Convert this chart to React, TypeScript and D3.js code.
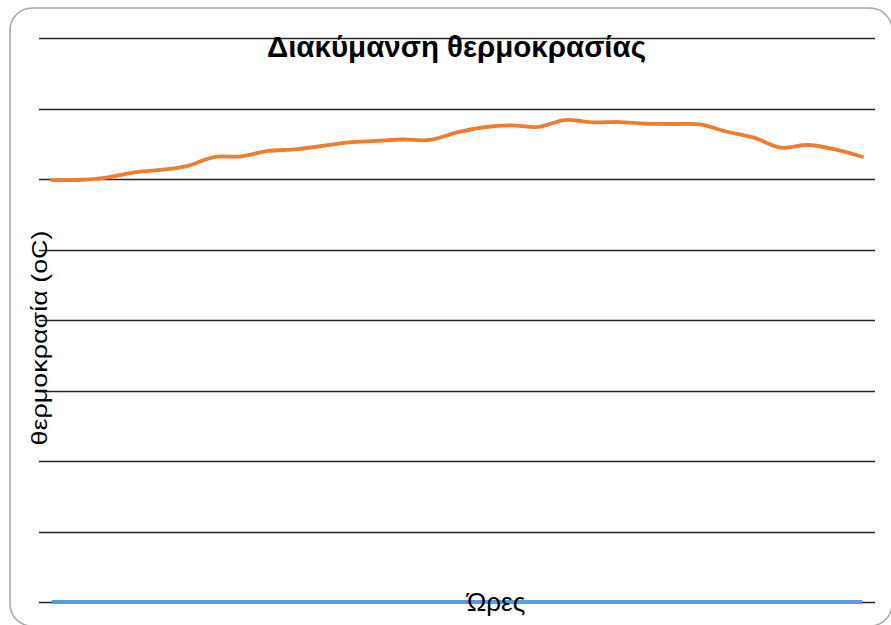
import React from "react";
import * as d3 from "d3";

const hours: string[] = Array.from({ length: 31 }, (_, i) => String(i + 1));
const temperature: number[] = [
  29.93, 29.93, 30.1, 30.46, 30.64, 30.92, 31.56, 31.6, 31.99, 32.1,
  32.34, 32.6, 32.7, 32.8, 32.77, 33.3, 33.67, 33.81, 33.69, 34.18,
  34.02, 34.04, 33.92, 33.9, 33.87, 33.35, 32.93, 32.22, 32.41, 32.1, 31.58,
];
const baseline: number[] = hours.map(() => 0);
const yTicks: number[] = [0, 5, 10, 15, 20, 25, 30, 35, 40];

const title = "Διακύμανση θερμοκρασίας";
const yTitle = "θερμοκρασία (oC)";
const xTitle = "Ώρες";

export default function App() {
  const W = 891;
  const H = 625;
  const plotLeft = 39;
  const plotRight = 875;
  const x = d3.scalePoint<string>().domain(hours).range([52, 862]);
  const y = d3.scaleLinear().domain([0, 40]).range([602, 38]);
  const line = d3
    .line<number>()
    .x((_, i) => x(hours[i]) as number)
    .y((d) => y(d))
    .curve(d3.curveCatmullRom.alpha(0.5));
  const flat = d3
    .line<number>()
    .x((_, i) => x(hours[i]) as number)
    .y((d) => y(d));
  const font = "'Liberation Sans', Arial, sans-serif";
  return (
    <svg
      width={W}
      height={H}
      style={{ position: "absolute", left: 0, top: 0, background: "#fff" }}
    >
      <rect x={10} y={8} width={882} height={618} rx={22} ry={22} fill="#fff" stroke="#a6a6a6" strokeWidth={1.5} />
      {yTicks.map((t) => (
        <line key={t} x1={plotLeft} x2={plotRight} y1={Math.round(y(t)) + 0.5} y2={Math.round(y(t)) + 0.5} stroke="#262626" strokeWidth={1.3} />
      ))}
      <path d={flat(baseline) || ""} fill="none" stroke="#5b9bd5" strokeWidth={3.8} />
      <path d={line(temperature) || ""} fill="none" stroke="#ed7d31" strokeWidth={3.8} strokeLinecap="round" />
      <text x={456.5} y={57} textAnchor="middle" fontFamily={font} fontWeight="bold" fontSize={29.5} fill="#000">
        {title}
      </text>
      <text
        transform={`translate(47,338) rotate(-90)`}
        textAnchor="middle"
        fontFamily={font}
        fontSize={22}
        textLength={215}
        lengthAdjust="spacingAndGlyphs"
        fill="#000"
      >
        {yTitle}
      </text>
      <text x={496} y={611} textAnchor="middle" fontFamily={font} fontSize={26} fill="#000">
        {xTitle}
      </text>
    </svg>
  );
}
